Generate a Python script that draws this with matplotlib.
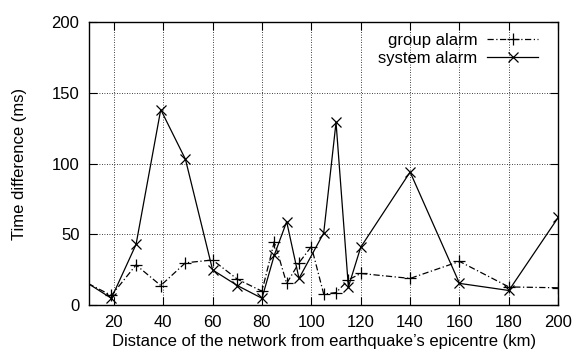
import matplotlib
matplotlib.use("Agg")
import matplotlib.pyplot as plt

plt.rcParams['font.family'] = ['Liberation Sans', 'DejaVu Sans']

# distances (km) and time differences (ms)
group_x = [5, 19, 29, 39, 49, 60, 70, 80, 85, 90, 95, 100, 105, 110, 115, 120, 140, 160, 180, 200]
group_y = [19.5, 7, 28.5, 14, 30, 32, 18.5, 10, 45, 15.5, 30, 41.5, 8, 9, 18, 22.5, 19, 31, 13, 12.4]

system_x = [5, 19, 29, 39, 49, 60, 70, 80, 85, 90, 95, 105, 110, 115, 120, 140, 160, 180, 200]
system_y = [20.5, 5, 43, 138, 103, 25, 14, 5, 35.5, 59, 19, 51, 129, 13, 41, 94, 15.5, 10.5, 62]

xticks = [20, 40, 60, 80, 100, 120, 140, 160, 180, 200]
yticks = [0, 50, 100, 150, 200]

fig = plt.figure(figsize=(5.77, 3.58), dpi=100)
ax = fig.add_axes([0.1545, 0.147, 0.813, 0.7925])

ax.plot(group_x, group_y, color='black', lw=0.9, linestyle=(0, (5, 2, 1, 2)),
        marker='+', markersize=9, markeredgewidth=0.9, label='group alarm')
ax.plot(system_x, system_y, color='black', lw=0.9, linestyle='-',
        marker='x', markersize=7, markeredgewidth=0.9, label='system alarm')

ax.set_xlim(10, 200)
ax.set_ylim(0, 200)
ax.set_xticks(xticks)
ax.set_yticks(yticks)
ax.tick_params(direction='in', top=True, right=True, length=6, width=0.8,
               labelsize=12, colors='black')
ax.tick_params(axis='x', pad=7)
ax.tick_params(axis='y', pad=7)
ax.grid(True, color='black', linestyle=(0, (1, 2)), linewidth=0.6)
for s in ax.spines.values():
    s.set_linewidth(1.0)

ax.set_xlabel("Distance of the network from earthquake’s epicentre (km)", fontsize=12, labelpad=3)
ax.set_ylabel("Time difference (ms)", fontsize=12, labelpad=18)

leg = ax.legend(loc='upper right', frameon=False, markerfirst=False, fontsize=12,
                handlelength=3.05, handletextpad=0.6, labelspacing=0.15,
                borderaxespad=0.3, bbox_to_anchor=(0.982, 1.0))

fig.savefig("out.png", dpi=100)
